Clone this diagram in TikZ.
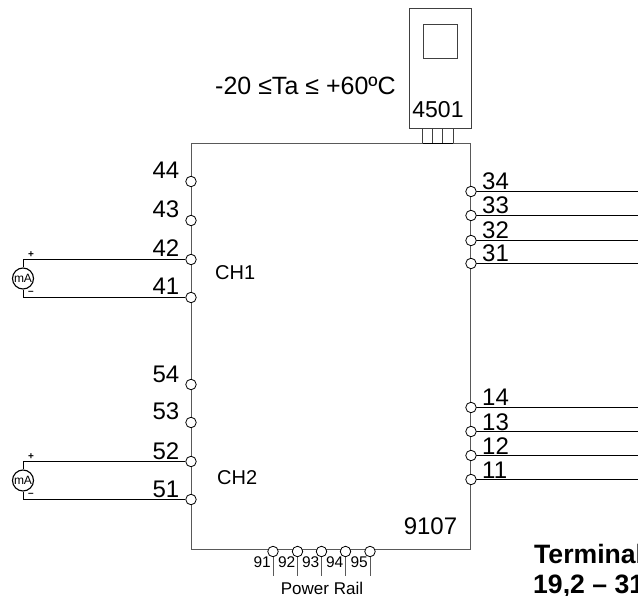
\documentclass[tikz,border=0pt]{standalone}
\usepackage{fontspec}
\setmainfont{Liberation Sans}
\newcommand{\lbl}[1]{\fontsize{24}{24}\selectfont #1}
\tikzset{
 x=1pt,y=-1pt,
 wire/.style={draw=black,line width=1pt},
 frame/.style={draw=black!65,line width=1pt},
 term/.style={circle,draw=black,fill=white,line width=0.8pt,minimum size=10.5pt,inner sep=0pt},
 num/.style={inner sep=0pt,font=\lbl{}},
 meter/.style={circle,draw=black,fill=white,line width=1.1pt,minimum size=21pt,inner sep=0pt,font=\fontsize{12}{12}\selectfont},
 small/.style={inner sep=0pt,font=\fontsize{15.5}{15.5}\selectfont},
 mini/.style={inner sep=0pt,font=\fontsize{10}{10}\selectfont\bfseries},
 boldlbl/.style={inner sep=0pt,anchor=base west,font=\fontsize{26.6}{26.6}\selectfont\bfseries},
}
\begin{document}
\begin{tikzpicture}
\useasboundingbox (0,0) rectangle (638,596);
\clip (0,0) rectangle (638,596);
\begin{scope}[yshift=-0.5pt]
% sensor
\node[draw=black!75,line width=0.9pt,minimum width=62pt,minimum height=120pt,inner sep=0pt] (disp) at (440,68) {};
\node[draw=black!75,line width=0.9pt,minimum size=34pt,inner sep=0pt] (win) at (440,41) {};
\node[inner sep=0pt,anchor=base,font=\fontsize{23}{23}\selectfont] (dn) at (438,117) {4501};
\node[inner sep=0pt,anchor=base west,font=\fontsize{25}{25}\selectfont] (ta) at (215,94.5) {-20 ≤Ta ≤ +60ºC};
% box
\node[frame,minimum width=279pt,minimum height=406pt,inner sep=0pt] (box) at (330.5,346) {};
\foreach \x in {422.5,432.5,442.5,453}
  \draw[draw=black!75,line width=0.9pt] (\x,128) -- (\x,143);
\draw[draw=black,line width=1pt] (422.5,143) -- (453,143);
% left terminals
\foreach \n/\y in {44/181,43/220,42/259,41/297,54/384,53/422,52/461,51/499}{
  \node[term] (t\n) at (191,\y) {};
  \node[num,anchor=base east] (l\n) at (179.5,\y-2.5) {\n};
}
% right terminals
\foreach \n/\y in {34/191,33/215,32/240,31/263,14/407,13/431,12/455,11/479}{
  \coordinate (e\n) at (638,\y);
  \draw[wire] (471,\y) -- (e\n);
  \node[term] (t\n) at (471,\y) {};
  \node[num,anchor=base west] (l\n) at (482,\y-1.5) {\n};
}
% meters
\node[meter] (m1) at (23,278) {mA};
\node[meter] (m2) at (23,480) {mA};
\draw[wire] (m1.north) |- (t42);
\draw[wire] (m1.south) |- (t41);
\draw[wire] (m2.north) |- (t52);
\draw[wire] (m2.south) |- (t51);
\node[mini] (p1) at (31,254) {+};
\node[mini] (n1) at (31,292) {–};
\node[mini] (p2) at (31,456) {+};
\node[mini] (n2) at (31,494) {–};
\node[inner sep=0pt,anchor=base west,font=\fontsize{20}{20}\selectfont] (ch1) at (215,279.5) {CH1};
\node[inner sep=0pt,anchor=base west,font=\fontsize{20}{20}\selectfont] (ch2) at (217,483.5) {CH2};
\node[inner sep=0pt,anchor=base,font=\lbl{}] (mod) at (430.5,533.5) {9107};
% rail
\foreach \n/\x in {91/273,92/297.5,93/321.5,94/345.5,95/370}{
  \coordinate (b\n) at (\x,575);
  \draw[frame] (\x,551) -- (b\n);
  \node[term] (t\n) at (\x,551) {};
  \node[small,anchor=base east] (l\n) at (\x-2,566.5) {\n};
}
\node[inner sep=0pt,anchor=base,font=\fontsize{17}{17}\selectfont] (rail) at (322,593.5) {Power Rail};
\node[boldlbl] (tm1) at (534,562.5) {Terminal};
\node[boldlbl] (tm2) at (533,592.5) {19,2 – 31,2 V};
\end{scope}
\end{tikzpicture}
\end{document}
